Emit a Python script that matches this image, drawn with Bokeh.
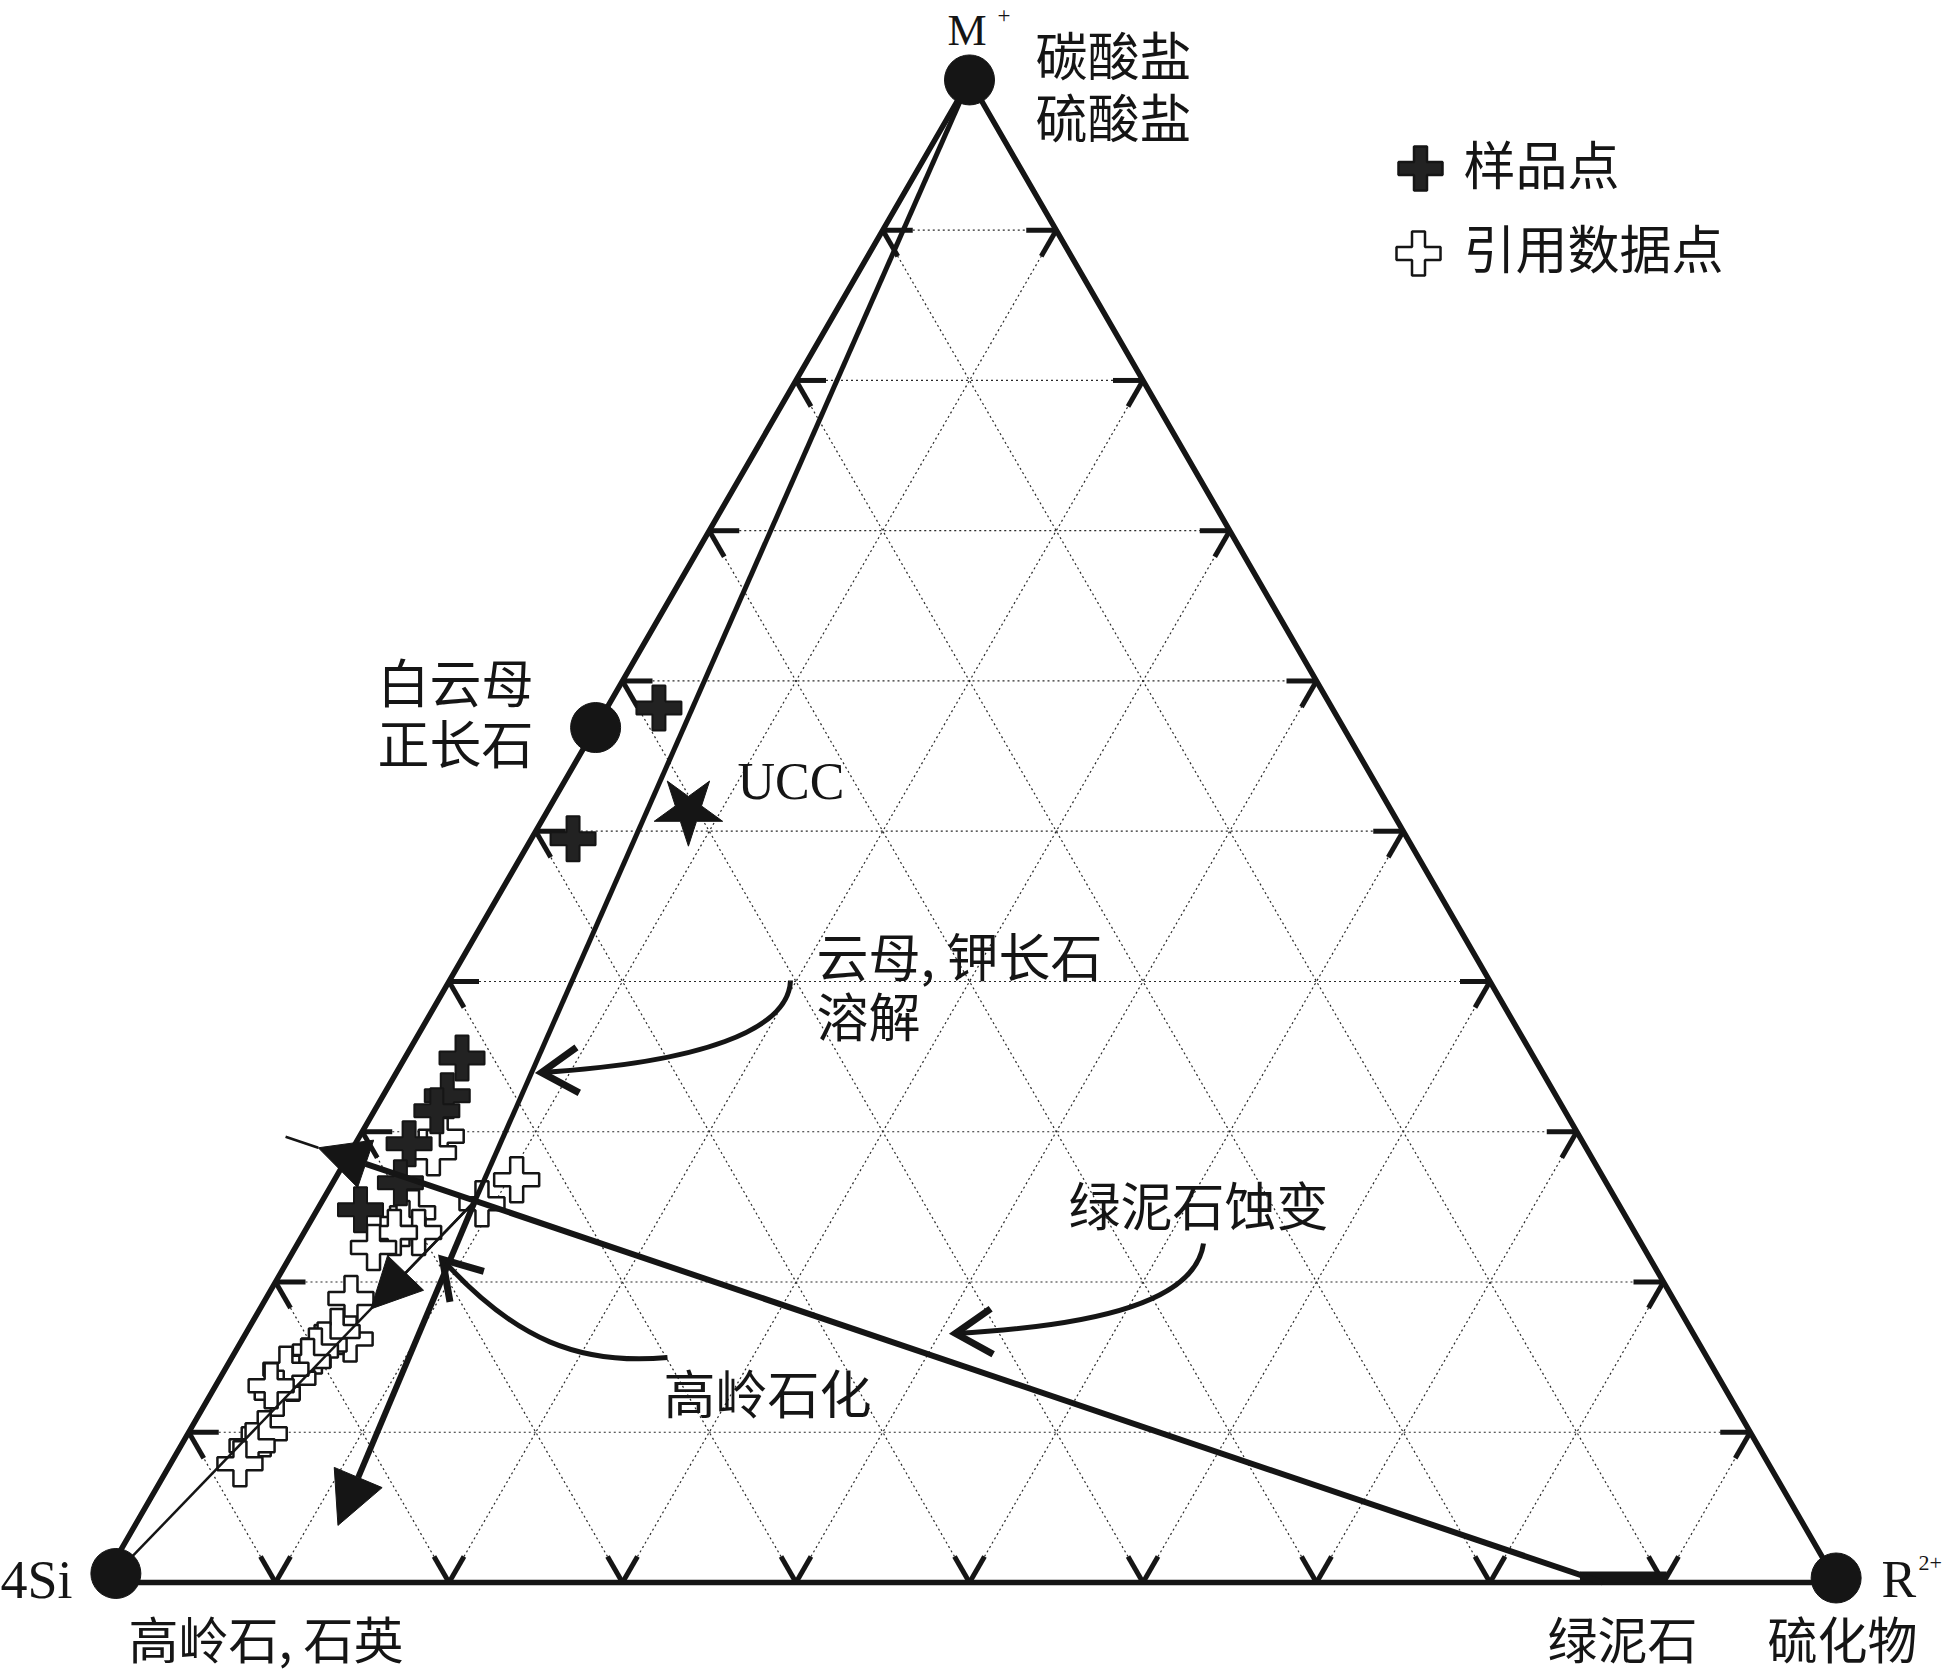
import math
from bokeh.plotting import figure
from bokeh.models import Range1d, Arrow, NormalHead
from bokeh.core.properties import value
from bokeh.embed import file_html
from bokeh.resources import INLINE

# ---- compositions, percent of M+ and R2+ (4Si is the remainder) ----
sample_M = [58.2, 49.5, 34.9, 32.4, 31.4, 29.2, 26.6, 24.8]
sample_R = [3.0, 2.4, 3.3, 3.7, 3.6, 3.1, 3.9, 2.5]

ref_M = [26.8, 25.2, 29.7, 28.6, 24.6, 23.9, 23.3, 23.3, 22.3, 18.9, 16.2,
         16.7, 15.8, 15.4, 14.7, 13.6, 14.2, 12.6, 13.1, 9.9, 9.1, 7.9]
ref_R = [10.5, 9.3, 4.7, 4.8, 5.6, 5.4, 6.6, 5.2, 4.5, 4.9, 6.2,
         5.2, 4.9, 4.6, 4.5, 4.2, 3.5, 3.8, 3.2, 4.4, 4.1, 4.0]

ucc_M = [51.4]
ucc_R = [8.1]

# end members drawn as large dots: M+ pole, 4Si pole, R2+ pole, muscovite / orthoclase
pole_M = [100.0, 0.6, 0.3, 56.9]
pole_R = [0.0, 0.5, 99.8, 0.0]

# chlorite composition range on the 4Si-R2+ side
chlorite_R = [85.0, 90.0]

# trends
node_M, node_R = 25.4, 8.8            # common node of the trends
kaol_tip_M, kaol_tip_R = 3.8, 11.7    # end of the kaolinitisation trend
chl_start_M, chl_start_R = 0.0, 86.5  # chlorite end of the alteration trend
chl_arrow_t, chl_thin_t = 1.139, 1.168  # how far the chlorite trend runs past the node
si_arrow_f = 0.71                     # arrow position on the 4Si-node trend

grid_steps = [10, 20, 30, 40, 50, 60, 70, 80, 90]

# ---- canvas geometry ----
W, H = 1951, 1677
SIDE = 1735.0            # triangle side in px
OX, OY = 101.5, 1582.0   # 4Si corner on the page
S3 = math.sqrt(3) / 2
INK = "#151515"


def tern(m, r):
    m, r = m / 100.0, r / 100.0
    return r + m / 2.0, m * S3


def page(x, y):
    return (x - OX) / SIDE, (OY - y) / SIDE


p = figure(width=W, height=H, x_range=Range1d(-OX / SIDE, (W - OX) / SIDE),
           y_range=Range1d(-(H - OY) / SIDE, OY / SIDE),
           x_axis_type=None, y_axis_type=None, toolbar_location=None,
           output_backend="svg", min_border=0)
p.outline_line_color = None
p.grid.visible = False
p.background_fill_color = "white"
p.border_fill_color = "white"

# ---- dotted grid and edge ticks ----
grid_x, grid_y, tick_x, tick_y = [], [], [], []
TICK = 30 / SIDE
for g in grid_steps:
    f = float(g)
    for a, b in ((tern(f, 0), tern(f, 100 - f)),
                 (tern(0, f), tern(100 - f, f)),
                 (tern(0, 100 - f), tern(100 - f, 0))):
        grid_x.append([a[0], b[0]])
        grid_y.append([a[1], b[1]])
        dx, dy = b[0] - a[0], b[1] - a[1]
        n = math.hypot(dx, dy)
        ux, uy = dx / n, dy / n
        tick_x.append([a[0], a[0] + ux * TICK])
        tick_y.append([a[1], a[1] + uy * TICK])
        tick_x.append([b[0], b[0] - ux * TICK])
        tick_y.append([b[1], b[1] - uy * TICK])

p.multi_line(grid_x, grid_y, line_color="#2a2a2a", line_width=1.2, line_dash="2 3")
p.multi_line(tick_x, tick_y, line_color=INK, line_width=5)

# ---- triangle ----
corners = [tern(0, 0), tern(0, 100), tern(100, 0), tern(0, 0)]
p.line([c[0] for c in corners], [c[1] for c in corners], line_color=INK,
       line_width=5.5, line_join="miter")

# chlorite range bar
cb0, cb1 = tern(0.37, chlorite_R[0]), tern(0.37, chlorite_R[1])
p.line([cb0[0], cb1[0]], [cb0[1], cb1[1]], line_color=INK, line_width=11, line_cap="butt")


# ---- plus symbols ----
def plus_shape(cx, cy, size=45.0, arm=13.0):
    h = size / 2 / SIDE
    a = arm / 2 / SIDE
    xs = [cx - a, cx + a, cx + a, cx + h, cx + h, cx + a, cx + a, cx - a, cx - a, cx - h, cx - h, cx - a]
    ys = [cy + h, cy + h, cy + a, cy + a, cy - a, cy - a, cy - h, cy - h, cy - a, cy - a, cy + a, cy + a]
    return xs, ys


ref_xs, ref_ys = [], []
for m, r in zip(ref_M, ref_R):
    xs, ys = plus_shape(*tern(m, r))
    ref_xs.append(xs)
    ref_ys.append(ys)
p.patches(ref_xs, ref_ys, fill_color="white", line_color=INK, line_width=2.5)

smp_xs, smp_ys = [], []
for m, r in zip(sample_M, sample_R):
    xs, ys = plus_shape(*tern(m, r))
    smp_xs.append(xs)
    smp_ys.append(ys)
p.patches(smp_xs, smp_ys, fill_color="#222222", line_color=INK, line_width=2)

# ---- trend lines ----
node = tern(node_M, node_R)
m_pole = tern(100, 0)
si_pole = tern(pole_M[1], pole_R[1])
kaol_tip = tern(kaol_tip_M, kaol_tip_R)
chl0 = tern(chl_start_M, chl_start_R)


def along(a, b, t):
    return a[0] + (b[0] - a[0]) * t, a[1] + (b[1] - a[1]) * t


chl_tip = along(chl0, node, chl_arrow_t)
chl_end = along(chl0, node, chl_thin_t)
si_tip = along(si_pole, node, si_arrow_f)

p.line([m_pole[0], node[0]], [m_pole[1], node[1]], line_color=INK, line_width=5)
p.line([si_pole[0], node[0]], [si_pole[1], node[1]], line_color=INK, line_width=2.5)
p.line([chl_tip[0], chl_end[0]], [chl_tip[1], chl_end[1]], line_color=INK, line_width=2.5)


def add_arrow(a, b, width, size=52):
    p.add_layout(Arrow(start=None,
                       end=NormalHead(size=size, fill_color=INK, line_color=INK, line_width=1),
                       x_start=a[0], y_start=a[1], x_end=b[0], y_end=b[1],
                       line_color=INK, line_width=width))


add_arrow(node, kaol_tip, 6)
add_arrow(chl0, chl_tip, 6, size=50)
add_arrow(node, si_tip, 2.5, size=50)

# ---- curved pointer arrows (page px) ----
curves = [
    ((790, 980), (788, 1030), (700, 1062), (541, 1072)),
    ((667, 1357), (580, 1365), (515, 1340), (442, 1259)),
    ((1203, 1243), (1195, 1300), (1100, 1325), (955, 1333)),
]
bz = {k: [] for k in ("x0", "y0", "x1", "y1", "cx0", "cy0", "cx1", "cy1")}
chev_x, chev_y = [], []
for p0, c0, c1, p1 in curves:
    a, b, c, d = page(*p0), page(*c0), page(*c1), page(*p1)
    bz["x0"].append(a[0]); bz["y0"].append(a[1])
    bz["cx0"].append(b[0]); bz["cy0"].append(b[1])
    bz["cx1"].append(c[0]); bz["cy1"].append(c[1])
    bz["x1"].append(d[0]); bz["y1"].append(d[1])
    ux, uy = p1[0] - c1[0], p1[1] - c1[1]
    n = math.hypot(ux, uy)
    bx, by = -ux / n, -uy / n
    arms = []
    for s in (1, -1):
        ang = s * math.radians(32)
        ex = bx * math.cos(ang) - by * math.sin(ang)
        ey = bx * math.sin(ang) + by * math.cos(ang)
        arms.append(page(p1[0] + ex * 43, p1[1] + ey * 43))
    chev_x.append([arms[0][0], d[0], arms[1][0]])
    chev_y.append([arms[0][1], d[1], arms[1][1]])

p.bezier(line_color=INK, line_width=5, **bz)
p.multi_line(chev_x, chev_y, line_color=INK, line_width=7, line_join="miter")

# ---- UCC and end-member dots ----
ux_, uy_ = zip(*[tern(m, r) for m, r in zip(ucc_M, ucc_R)])
p.scatter(list(ux_), list(uy_), marker="star", size=72, angle=math.pi,
          fill_color=INK, line_color=INK)
px_, py_ = zip(*[tern(m, r) for m, r in zip(pole_M, pole_R)])
p.scatter(list(px_), list(py_), marker="circle", size=50, fill_color=INK, line_color=INK)

# ---- legend ----
for (lx, ly), fill in (((1420, 168), "#222222"), ((1418, 253), "white")):
    xs, ys = plus_shape(*page(lx, ly), size=44)
    p.patch(xs, ys, fill_color=fill, line_color=INK, line_width=2.5)

# ---- labels ----
CJK = value("Noto Sans CJK SC")
SERIF = value("Liberation Serif")

cjk_labels = [
    ("碳酸盐", 1035, 53, 52), ("硫酸盐", 1035, 115, 52),
    ("样品点", 1463, 162, 52), ("引用数据点", 1463, 246, 52),
    ("白云母", 377, 680, 52), ("正长石", 377, 741, 52),
    ("云母, 钾长石", 816, 954, 52), ("溶解", 816, 1014, 52),
    ("高岭石化", 663, 1391, 52), ("绿泥石蚀变", 1068, 1203, 52),
    ("高岭石, 石英", 128, 1636, 50), ("绿泥石", 1547, 1636, 50),
    ("硫化物", 1767, 1636, 50),
]
for t, x, y, s in cjk_labels:
    sx, sy = page(x, y)
    p.text([sx], [sy], text=[t], text_font=CJK, text_font_size=value(f"{s}px"),
           text_baseline="middle", text_align="left", text_color=INK)

serif_labels = [("M", 947, 30, 44), ("4Si", 0, 1579, 54), ("R", 1881, 1579, 52),
                ("UCC", 737, 781, 52), ("+", 997, 15, 23), ("2+", 1918, 1562, 22)]
for t, x, y, s in serif_labels:
    sx, sy = page(x, y)
    p.text([sx], [sy], text=[t], text_font=SERIF, text_font_size=value(f"{s}px"),
           text_baseline="middle", text_align="left", text_color=INK)

open("out.html", "w").write(file_html(p, INLINE))
